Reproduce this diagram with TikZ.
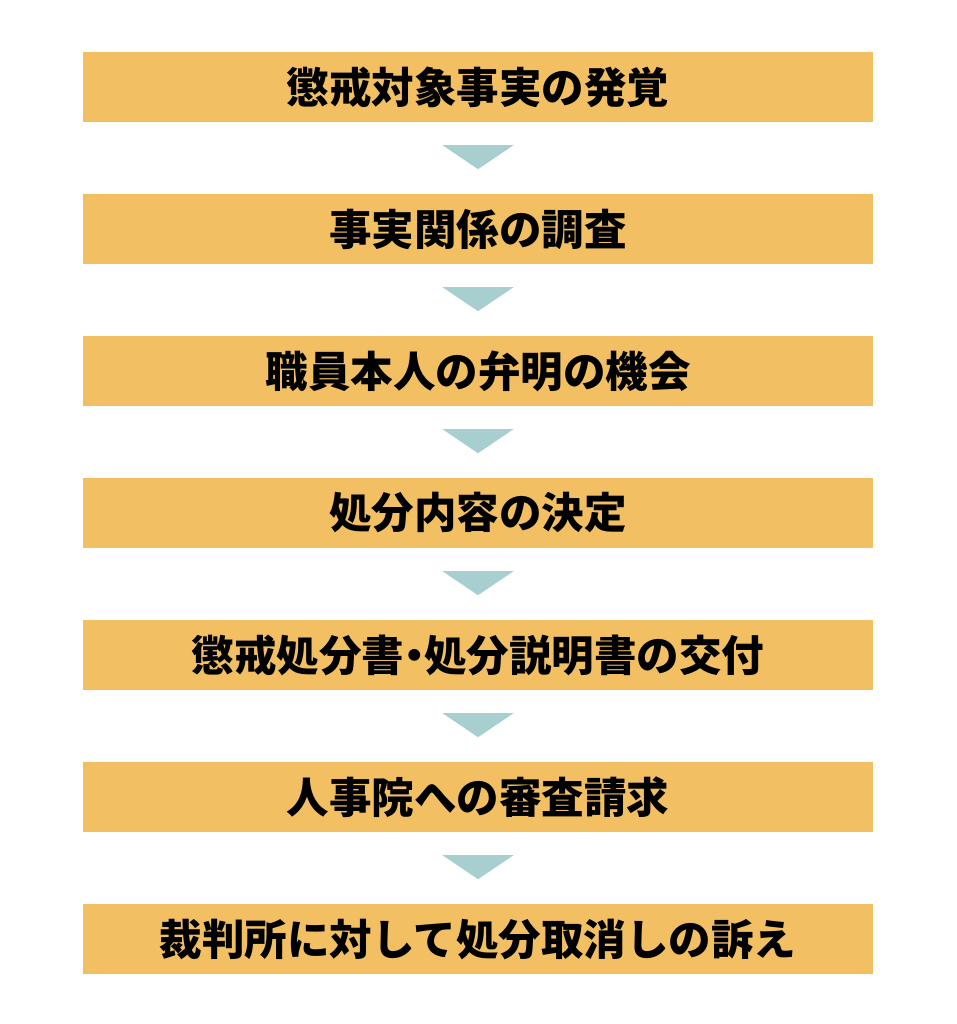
\documentclass[tikz,border=0pt]{standalone}
\usepackage{fontspec}
\newfontfamily\cjk{Noto Sans CJK JP}
\usetikzlibrary{calc}
\definecolor{boxfill}{HTML}{F2C063}
\definecolor{trifill}{HTML}{A8CFD0}
\newcommand{\halfdot}{\kern-0.26em・\kern-0.26em}
\begin{document}
\begin{tikzpicture}[x=1pt,y=1pt,
  stepbox/.style={fill=boxfill,draw=none,minimum width=790pt,minimum height=70pt,inner sep=0pt,
    font=\cjk\bfseries\fontsize{42.5}{46}\selectfont,text=black},
  tri/.style={fill=trifill,draw=none}]
\useasboundingbox (0,0) rectangle (956,-1024);
\foreach \i/\t in {1/懲戒対象事実の発覚,2/事実関係の調査,3/職員本人の弁明の機会,4/処分内容の決定,5/懲戒処分書\halfdot 処分説明書の交付,6/人事院への審査請求,7/裁判所に対して処分取消しの訴え}{
  \node[stepbox] (b\i) at (478,{-87-142*(\i-1)}) {\t};
}
\foreach \i in {1,...,6}{
  \coordinate (t\i) at ($(b\i.south)+(0,-23)$);
  \fill[tri] ($(t\i)+(-35.5,0)$) -- ($(t\i)+(35.5,0)$) -- ($(t\i)+(0,-24)$) -- cycle;
}
\end{tikzpicture}
\end{document}
